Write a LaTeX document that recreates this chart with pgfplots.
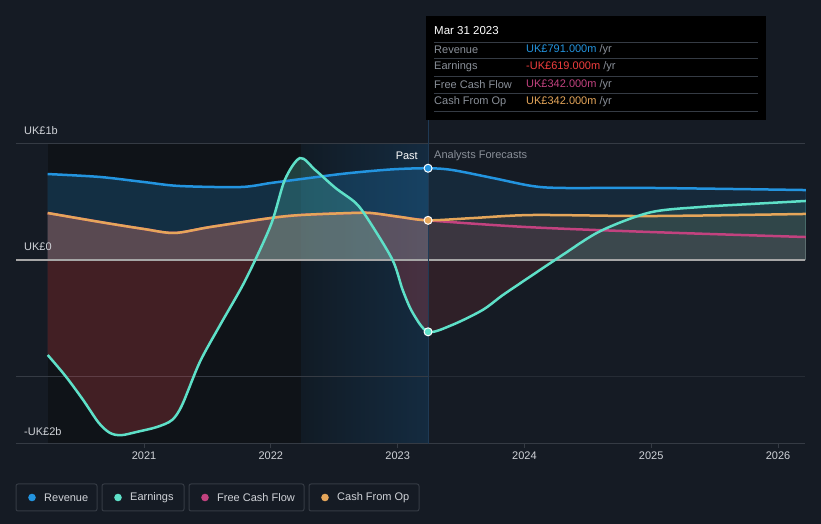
\documentclass[border=0pt]{standalone}
\usepackage{pgfplots}
\pgfplotsset{compat=1.18}
\usepackage{pgfplotstable}
\usepackage{fontspec}
\setmainfont{Liberation Sans}
\definecolor{bg}{HTML}{151B24}
\definecolor{darkreg}{HTML}{0F1318}
\definecolor{hlL}{HTML}{111B25}
\definecolor{hlR}{HTML}{142B40}
\definecolor{rev}{HTML}{2394DF}
\definecolor{earn}{HTML}{5EE0C8}
\definecolor{fcf}{HTML}{C2427F}
\definecolor{cfo}{HTML}{E5A65A}
\definecolor{neg}{HTML}{DC464B}
\definecolor{gridc}{HTML}{353B44}
\definecolor{txt}{HTML}{D0D3D8}
\definecolor{muted}{HTML}{8A9099}
\definecolor{vline}{HTML}{1F3A55}
\definecolor{errred}{HTML}{F03E3E}

\pgfplotstableread{
x y
2020.24 0.741
2020.65 0.716
2021.00 0.672
2021.28 0.638
2021.76 0.629
2022.00 0.664
2022.24 0.698
2022.55 0.741
2022.79 0.767
2023.00 0.784
2023.24 0.791
2023.43 0.776
2023.75 0.707
2024.06 0.638
2024.30 0.621
2025.00 0.621
2026.22 0.603
}\revenue

\pgfplotstableread{
x y
2020.24 -0.819
2020.38 -1.000
2020.52 -1.207
2020.64 -1.400
2020.73 -1.490
2020.82 -1.510
2020.95 -1.480
2021.10 -1.440
2021.22 -1.380
2021.30 -1.250
2021.44 -0.879
2021.60 -0.560
2021.80 -0.172
2022.00 0.302
2022.11 0.690
2022.23 0.879
2022.35 0.776
2022.51 0.621
2022.67 0.491
2022.77 0.345
2022.96 0.000
2023.04 -0.259
2023.12 -0.457
2023.24 -0.619
2023.43 -0.560
2023.67 -0.431
2023.83 -0.302
2024.04 -0.147
2024.30 0.043
2024.60 0.250
2024.99 0.410
2025.39 0.457
2025.79 0.483
2026.22 0.509
}\earnings

\pgfplotstableread{
x y
2020.24 0.405
2020.65 0.328
2021.00 0.267
2021.24 0.233
2021.52 0.284
2022.00 0.362
2022.24 0.388
2022.63 0.405
2022.79 0.405
2023.02 0.371
2023.24 0.342
2023.60 0.362
2024.07 0.388
2025.00 0.379
2026.22 0.397
}\cfo

\pgfplotstableread{
x y
2020.24 0.405
2020.65 0.328
2021.00 0.267
2021.24 0.233
2021.52 0.284
2022.00 0.362
2022.24 0.388
2022.63 0.405
2022.79 0.405
2023.02 0.371
2023.24 0.342
2024.02 0.284
2025.00 0.241
2026.22 0.198
}\fcf

\begin{document}
\fontsize{11}{13}\selectfont
\begin{tikzpicture}[x=1pt,y=1pt]
\fill[bg] (0,0) rectangle (821,524);
\begin{axis}[
  at={(16pt,80pt)}, anchor=south west, scale only axis,
  width=789pt, height=300pt,
  xmin=2019.99, xmax=2026.213, ymin=-1.586, ymax=1.0,
  clip=false,
  axis line style={draw=none},
  ytick=\empty,
  xtick={2021,2022,2023,2024,2025,2026},
  xticklabels={2021,2022,2023,2024,2025,2026},
  xtick pos=bottom, tick align=outside, major tick length=4pt,
  tick style={draw=gridc, line width=1pt},
  x tick label style={text=txt, font=\fontsize{11}{13}\selectfont},
]
% background regions
\fill[darkreg] (axis cs:2020.24,-1.586) rectangle (axis cs:2022.24,1.0);
\shade[left color=hlL, right color=hlR] (axis cs:2022.24,-1.586) rectangle (axis cs:2023.24,1.0);
% grid
\draw[gridc, line width=1pt] (axis cs:2019.99,1) -- (axis cs:2026.213,1);
\draw[gridc, line width=0.8pt] (axis cs:2019.99,-1) -- (axis cs:2026.213,-1);
% fills
\addplot[draw=none, fill=rev, fill opacity=0.22, smooth] table {\revenue} \closedcycle;
\addplot[draw=none, fill=fcf, fill opacity=0.2, smooth] table {\fcf} \closedcycle;
\addplot[draw=none, fill=cfo, fill opacity=0.2, smooth] table {\cfo} \closedcycle;
\begin{scope}
\clip (axis cs:2019.9,0) rectangle (axis cs:2026.3,1.2);
\addplot[draw=none, fill=earn, fill opacity=0.22, smooth] table {\earnings} \closedcycle;
\end{scope}
\begin{scope}
\clip (axis cs:2019.9,-1.7) rectangle (axis cs:2026.3,0);
\addplot[draw=none, fill=neg, fill opacity=0.25, smooth] table {\earnings} \closedcycle;
\end{scope}
% dim forecast region
\fill[bg, opacity=0.45] (axis cs:2023.24,-1.586) rectangle (axis cs:2026.213,1.0);
% axis lines
\draw[gridc, line width=1pt] (axis cs:2019.99,-1.586) -- (axis cs:2026.213,-1.586);
\draw[white!65!black, line width=1.5pt] (axis cs:2019.99,0) -- (axis cs:2026.213,0);
\draw[vline, line width=1pt] (axis cs:2023.24,-1.586) -- (axis cs:2023.24,1.207);
% lines
\addplot[fcf, line width=2.5pt, smooth] table {\fcf};
\addplot[cfo, line width=2.5pt, smooth] table {\cfo};
\addplot[rev, line width=2.5pt, smooth] table {\revenue};
\addplot[earn, line width=2.5pt, smooth] table {\earnings};
% markers
\addplot[only marks, mark=*, mark size=4pt, mark options={fill=rev, draw=white, line width=1pt}] coordinates {(2023.24,0.791)};
\addplot[only marks, mark=*, mark size=4pt, mark options={fill=cfo, draw=white, line width=1pt}] coordinates {(2023.24,0.342)};
\addplot[only marks, mark=*, mark size=4pt, mark options={fill=earn, draw=white, line width=1pt}] coordinates {(2023.24,-0.619)};
\end{axis}
% y labels
\node[anchor=west, text=txt, inner sep=0] at (24,393) {UK£1b};
\node[anchor=west, text=txt, inner sep=0] at (24,277) {UK£0};
\node[anchor=west, text=txt, inner sep=0] at (24,92) {-UK£2b};
% past / forecasts
\node[anchor=east, text=white, inner sep=0] at (418,368) {Past};
\node[anchor=west, text=muted, inner sep=0] at (434,368) {Analysts Forecasts};
% tooltip
\fill[black] (426,404) rectangle (766,508);
\node[anchor=west, text=white, inner sep=0] at (434,493) {\fontsize{11.5}{13}\selectfont Mar 31 2023};
\foreach \yy in {482,466,448,431,413} {\draw[gridc, line width=0.8pt] (434,\yy) -- (758,\yy);}
\node[anchor=west, text=muted, inner sep=0] at (434,474.5) {Revenue};
\node[anchor=west, text=muted, inner sep=0] at (434,457) {Earnings};
\node[anchor=west, text=muted, inner sep=0] at (434,439.5) {Free Cash Flow};
\node[anchor=west, text=muted, inner sep=0] at (434,422.5) {Cash From Op};
\node[anchor=west, inner sep=0] at (526,474.5) {\textcolor{rev}{UK£791.000m} \textcolor{muted}{/yr}};
\node[anchor=west, inner sep=0] at (526,457) {\textcolor{errred}{-UK£619.000m} \textcolor{muted}{/yr}};
\node[anchor=west, inner sep=0] at (526,439.5) {\textcolor{fcf}{UK£342.000m} \textcolor{muted}{/yr}};
\node[anchor=west, inner sep=0] at (526,422.5) {\textcolor{cfo}{UK£342.000m} \textcolor{muted}{/yr}};
% legend
\draw[gridc, line width=1pt, rounded corners=2pt] (16,13) rectangle (97,40);
\draw[gridc, line width=1pt, rounded corners=2pt] (102,13) rectangle (184,40);
\draw[gridc, line width=1pt, rounded corners=2pt] (189,13) rectangle (304,40);
\draw[gridc, line width=1pt, rounded corners=2pt] (309,13) rectangle (419,40);
\fill[rev] (32,26.5) circle (3.8);
\fill[earn] (118,26.5) circle (3.8);
\fill[fcf] (205,26.5) circle (3.8);
\fill[cfo] (325,26.5) circle (3.8);
\node[anchor=west, text=txt, inner sep=0] at (44,26.5) {Revenue};
\node[anchor=west, text=txt, inner sep=0] at (130,26.5) {Earnings};
\node[anchor=west, text=txt, inner sep=0] at (217,26.5) {Free Cash Flow};
\node[anchor=west, text=txt, inner sep=0] at (337,26.5) {Cash From Op};
\end{tikzpicture}
\end{document}
